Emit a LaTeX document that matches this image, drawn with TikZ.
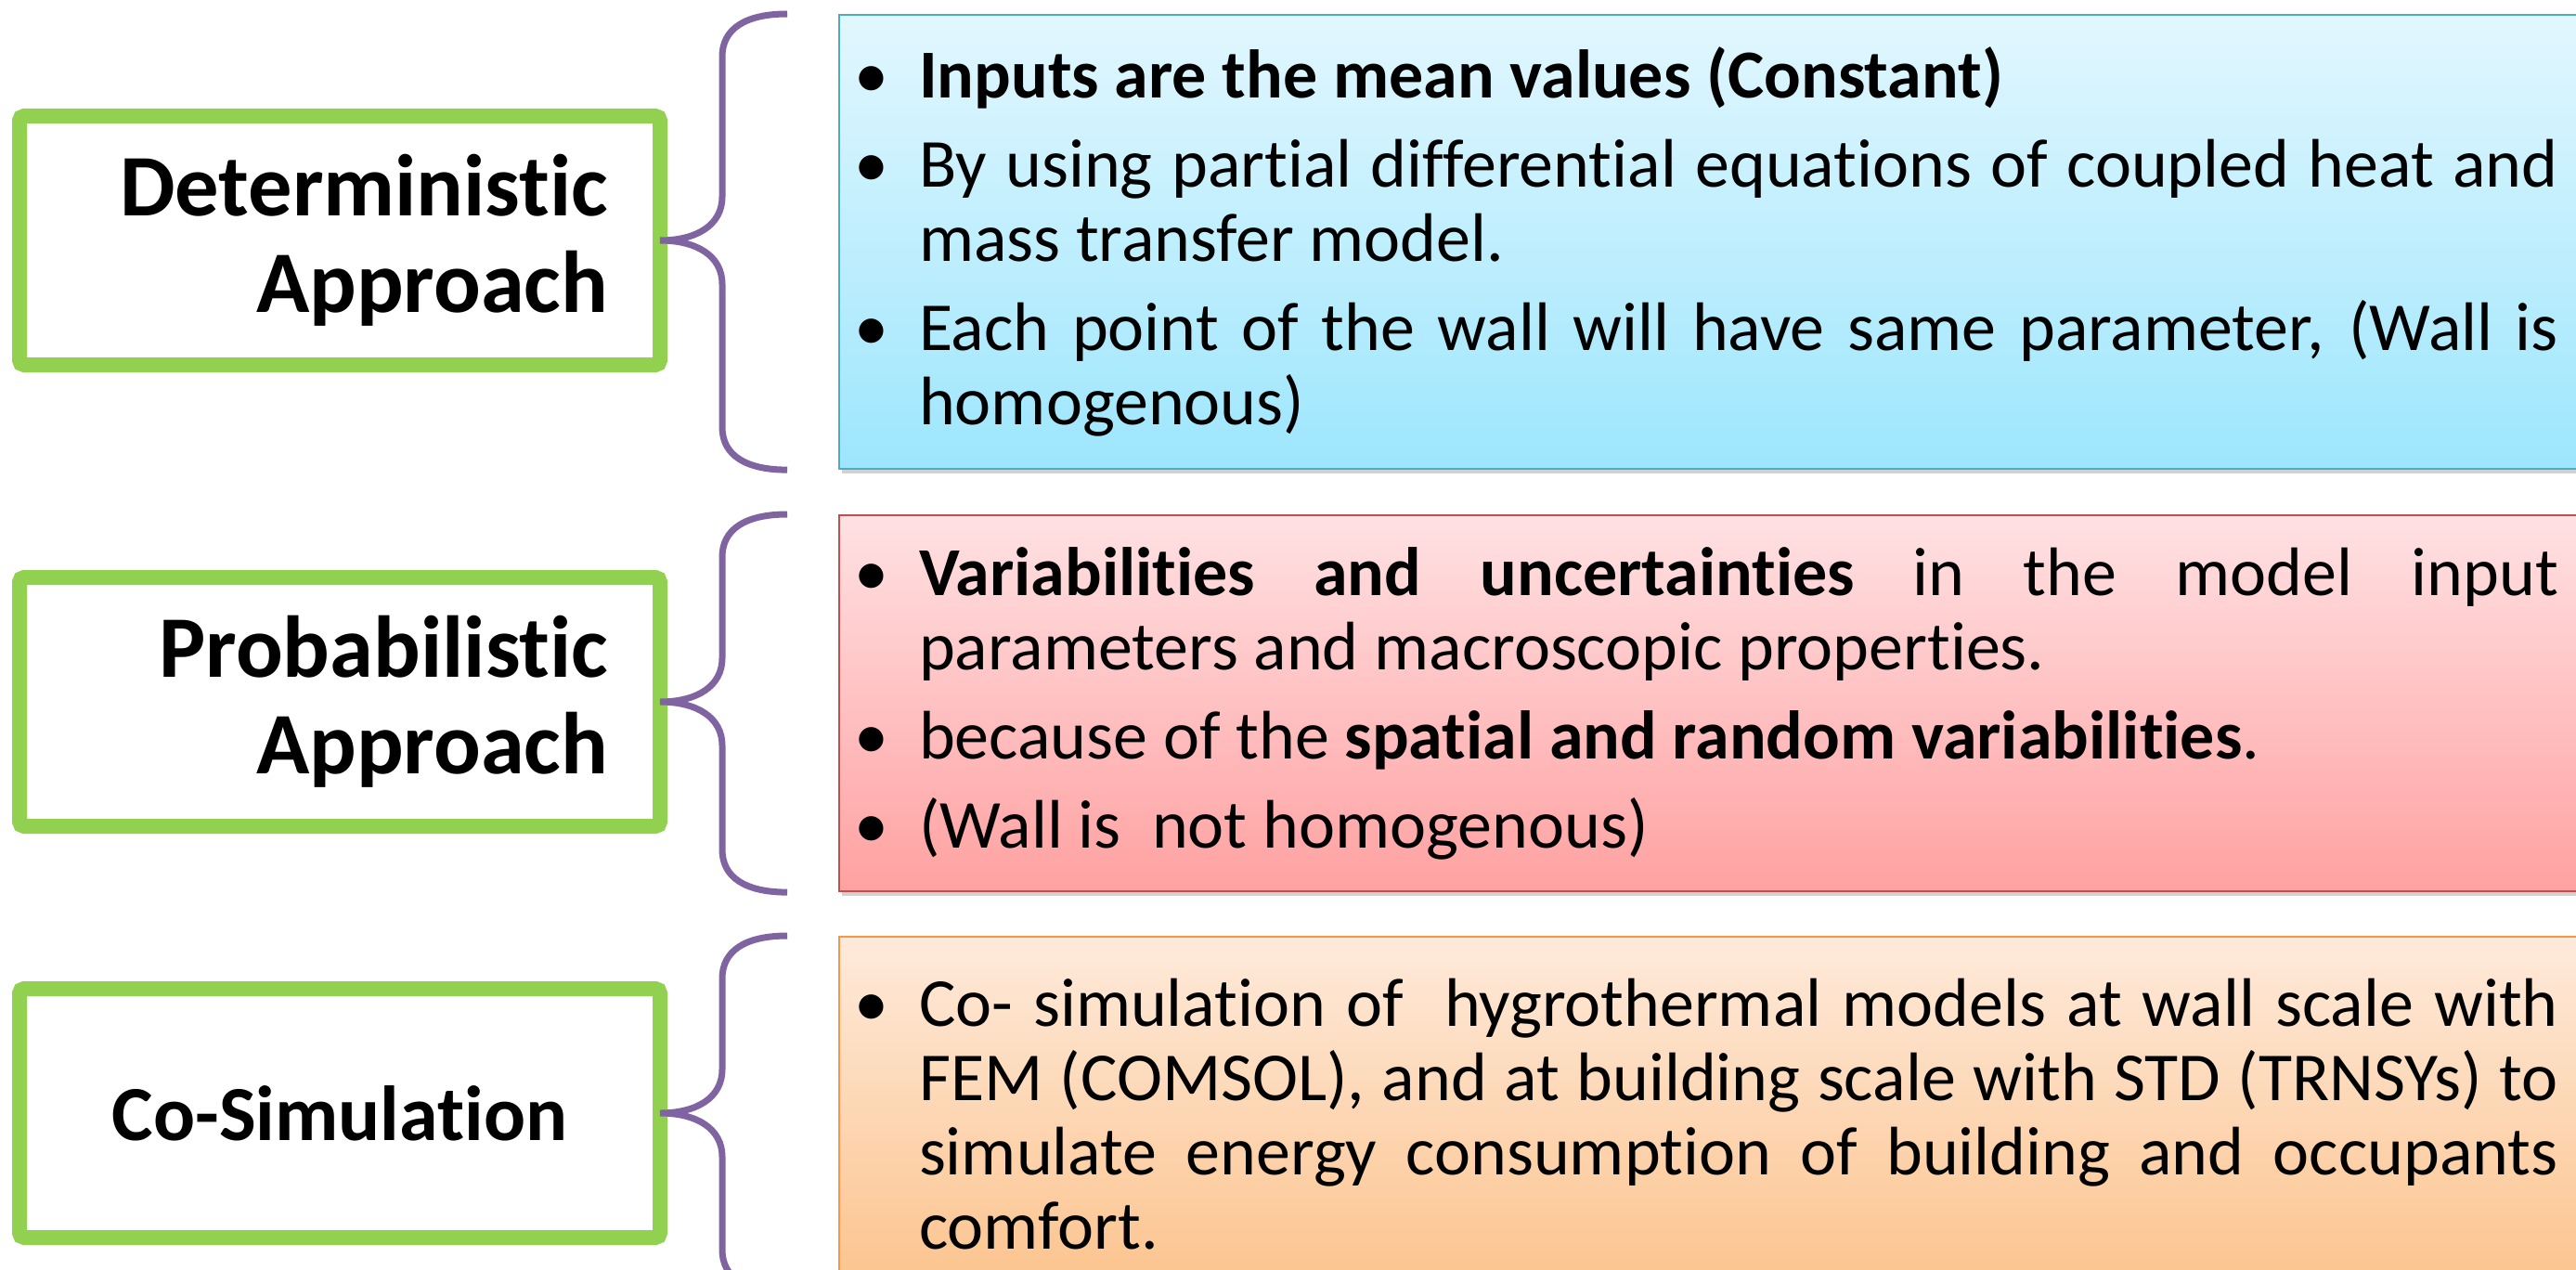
\documentclass[tikz,border=0pt]{standalone}
\usepackage{fontspec}
\setmainfont{Carlito}[Ligatures=NoCommon]
\usepackage{tikz}
\usetikzlibrary{calc,shadows}
\usepackage{xcolor}

\definecolor{frameGreen}{HTML}{92D050}
\definecolor{bracePurple}{HTML}{8064A2}
\definecolor{detLine}{HTML}{4BACC6}
\definecolor{detTop}{HTML}{E2F7FE}
\definecolor{detBottom}{HTML}{9DE6FD}
\definecolor{probLine}{HTML}{C0504D}
\definecolor{probTop}{HTML}{FFE1E3}
\definecolor{probBottom}{HTML}{FFA1A1}
\definecolor{cosimLine}{HTML}{F79646}
\definecolor{cosimTop}{HTML}{FEEADB}
\definecolor{cosimBottom}{HTML}{FCC38C}

% hanging bullet in front of a paragraph
\newcommand{\bitem}{\leavevmode\llap{\textbullet\hspace{0.33cm}}}

\begin{document}
\begin{tikzpicture}[
    approach/.style={draw=frameGreen,line width=0.16cm,rounded corners=0.05cm,fill=white,outer sep=0pt,minimum width=6.9cm,minimum height=2.68cm,text width=5.78cm,align=right,font=\fontsize{26.9}{29.6}\selectfont\bfseries},
    info/.style={draw,line width=0.6pt,anchor=north west,text width=17.66cm,inner xsep=0.86cm,align=justify,font=\fontsize{21.05}{22.76}\selectfont,drop shadow={shadow xshift=0.03cm,shadow yshift=-0.045cm,opacity=0.3,fill=black!60}},
    brace/.style={draw=bracePurple,line width=0.07cm}
  ]
    \useasboundingbox (0,0) rectangle (27.75,13.67);

    % Approach boxes
    \node[approach] (det) at (3.66,11.08) {Deterministic\\Approach};
    \node[approach] (prob) at (3.66,6.11) {Probabilistic\\Approach};
    \node[approach,align=center,font=\fontsize{23.9}{29.6}\selectfont\bfseries] (cosim) at (3.66,1.68) {Co-Simulation};

    % Description boxes
    \node[info,draw=detLine,top color=detTop,bottom color=detBottom,minimum height=4.89cm] (detinfo) at (9.03,13.52) {\setlength{\parskip}{0.16cm}%
      \bitem\textbf{Inputs are the mean values (Constant)}\par
      \bitem By using partial differential equations of coupled heat and\linebreak mass transfer model.\par
      \bitem Each point of the wall will have same parameter, (Wall is\linebreak homogenous)};
    \node[info,draw=probLine,top color=probTop,bottom color=probBottom,minimum height=4.05cm] (probinfo) at (9.03,8.13) {\setlength{\parskip}{0.16cm}%
      \bitem\textbf{Variabilities and uncertainties} in the model input\linebreak parameters and macroscopic properties.\par
      \bitem because of the \textbf{spatial and random variabilities}.\par
      \bitem (Wall is\ \ not homogenous)};
    \node[info,draw=cosimLine,top color=cosimTop,bottom color=cosimBottom,minimum height=3.82cm] (cosiminfo) at (9.03,3.59) {%
      \bitem Co- simulation of\ \ hygrothermal models at wall scale with\linebreak FEM (COMSOL), and at building scale with STD (TRNSYs) to\linebreak simulate energy consumption of building and occupants\linebreak comfort.};

    % Braces from each approach to its description
    \draw[brace] ($(detinfo.north west)+(-0.55,0)$) .. controls +(-0.45,0) and +(0,0.3) .. ($(det.east |- detinfo.north)+(0.67,-0.46)$) -- ($(det.east)+(0.67,0.47)$) .. controls +(0,-0.3) and +(0.4,0) .. (det.east) .. controls +(0.4,0) and +(0,0.3) .. ($(det.east)+(0.67,-0.47)$) -- ($(det.east |- detinfo.south)+(0.67,0.46)$) .. controls +(0,-0.3) and +(-0.45,0) .. ($(detinfo.south west)+(-0.55,0)$);
    \draw[brace] ($(probinfo.north west)+(-0.55,0)$) .. controls +(-0.45,0) and +(0,0.3) .. ($(prob.east |- probinfo.north)+(0.67,-0.46)$) -- ($(prob.east)+(0.67,0.47)$) .. controls +(0,-0.3) and +(0.4,0) .. (prob.east) .. controls +(0.4,0) and +(0,0.3) .. ($(prob.east)+(0.67,-0.47)$) -- ($(prob.east |- probinfo.south)+(0.67,0.46)$) .. controls +(0,-0.3) and +(-0.45,0) .. ($(probinfo.south west)+(-0.55,0)$);
    \draw[brace] ($(cosiminfo.north west)+(-0.55,0)$) .. controls +(-0.45,0) and +(0,0.3) .. ($(cosim.east |- cosiminfo.north)+(0.67,-0.46)$) -- ($(cosim.east)+(0.67,0.47)$) .. controls +(0,-0.3) and +(0.4,0) .. (cosim.east) .. controls +(0.4,0) and +(0,0.3) .. ($(cosim.east)+(0.67,-0.47)$) -- ($(cosim.east |- cosiminfo.south)+(0.67,0.46)$) .. controls +(0,-0.3) and +(-0.45,0) .. ($(cosiminfo.south west)+(-0.55,0)$);
  \end{tikzpicture}
\end{document}
